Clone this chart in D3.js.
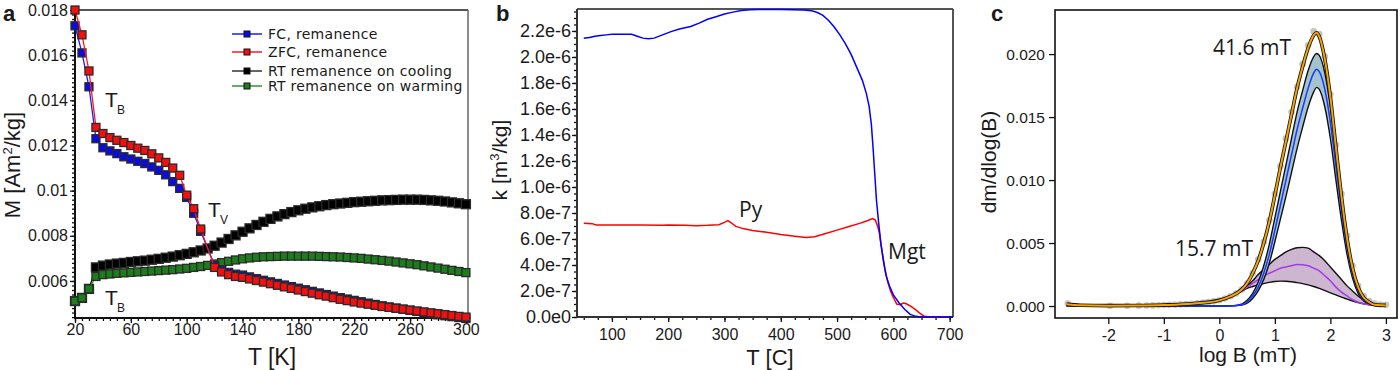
<!DOCTYPE html>
<html>
<head>
<meta charset="utf-8">
<script src="https://cdn.jsdelivr.net/npm/d3@7"></script>
<style>
  body { margin: 0; background: #fff; }
  svg text { font-family: "Liberation Sans", Arial, sans-serif; fill: #1a1a1a; }
  .hum { font-family: "Open Sans", "Noto Sans", sans-serif !important; }
  .leg { font-family: "DejaVu Sans", Verdana, sans-serif !important; }
</style>
</head>
<body>
<svg id="fig" width="1400" height="370"></svg>
<script>
/* ---------- panel a : remanence vs T ---------- */
const tempsFC = [20,25,30,35,40,45,50,55,60,65,70,75,80,85,90,95,100,105,110,
  120,125,130,135,140,145,150,155,160,165,170,175,180,185,190,195,200,205,210,215,220,
  225,230,235,240,245,250,255,260,265,270,275,280,285,290,295,300];
const fcRem = [0.0173,0.0161,0.0146,0.0123,0.0119,0.01176,0.01164,0.0115,0.0114,0.0113,
  0.0112,0.01105,0.0109,0.0107,0.0104,0.0101,0.0097,0.0090,0.0082,
  0.0067,0.0065,0.00638,0.0063,0.00626,0.00618,0.0061,0.00603,0.00596,0.00589,0.00582,
  0.00575,0.00568,0.00561,0.00554,0.00547,0.0054,0.00533,0.00526,0.0052,0.00514,0.00508,
  0.00502,0.00496,0.0049,0.00485,0.0048,0.00475,0.0047,0.00465,0.0046,0.00455,0.0045,
  0.00446,0.00442,0.00438,0.00434];
const zfcRem = [0.0180,0.0169,0.0153,0.0128,0.01253,0.01235,0.01223,0.01213,0.0120,0.01188,
  0.01178,0.01163,0.01145,0.01125,0.0110,0.01068,0.0098,0.0092,0.0083,
  0.0066,0.0064,0.00628,0.0062,0.00616,0.00609,0.00602,0.00595,0.00588,0.00581,0.00574,
  0.00567,0.0056,0.00553,0.00546,0.00539,0.00533,0.00526,0.00519,0.00513,0.00507,0.00502,
  0.00497,0.00492,0.00487,0.00483,0.00479,0.00475,0.00471,0.00467,0.00463,0.00459,0.00455,
  0.00451,0.00447,0.00443,0.0044];
const tempsRT = [20,25,30,35,40,45,50,55,60,65,70,75,80,85,90,95,100,105,110,115,
  120,125,130,135,140,145,150,155,160,165,170,175,180,185,190,195,200,205,210,215,
  220,225,230,235,240,245,250,255,260,265,270,275,280,285,290,295,300];
const rtCooling = [0.00511,0.00525,0.00565,0.0066,0.00668,0.00673,0.00677,0.0068,0.00684,0.00687,
  0.0069,0.00694,0.00698,0.00703,0.00708,0.00714,0.0072,0.00727,0.00735,0.00744,
  0.00756,0.0077,0.00786,0.00802,0.00818,0.00833,0.00848,0.00862,0.00875,0.00886,
  0.00896,0.00905,0.00913,0.0092,0.00926,0.00931,0.00936,0.0094,0.00943,0.00946,
  0.00949,0.00951,0.00953,0.00955,0.00957,0.00958,0.00959,0.0096,0.0096,0.0096,
  0.00959,0.00957,0.00955,0.00952,0.00948,0.00944,0.0094];
const rtWarming = [0.00511,0.00525,0.00565,0.0062,0.00628,0.00631,0.00634,0.00636,0.00638,0.0064,
  0.00642,0.00644,0.00646,0.00648,0.0065,0.00653,0.00656,0.0066,0.00664,0.00669,
  0.00675,0.00681,0.00687,0.00693,0.00698,0.00702,0.00705,0.00707,0.00708,0.00709,
  0.0071,0.0071,0.0071,0.0071,0.0071,0.00709,0.00708,0.00707,0.00706,0.00704,
  0.00702,0.007,0.00697,0.00694,0.00691,0.00688,0.00684,0.0068,0.00676,0.00672,
  0.00667,0.00662,0.00657,0.00652,0.00647,0.00642,0.00637];
const aYTicks = [0.006,0.008,0.01,0.012,0.014,0.016,0.018];
const aYTickLabels = ['0.006','0.008','0.01','0.012','0.014','0.016','0.018'];
const aXTicks = [20,60,100,140,180,220,260,300];
const legendLabels = ['FC, remanence','ZFC, remanence','RT remanence on cooling','RT remanence on warming'];

/* ---------- panel b : susceptibility vs T ---------- */
const tempHeat = [50,60,70,80,90,100,110,120,135,145,155,165,175,190,205,220,240,255,270,285,
  300,315,330,345,360,380,400,420,440,455,465,475,485,495,505,515,525,535,545,552,
  557,561,564,567,570,574,578,582,587,593,600,610,620,630,640,650,700,706];
const kHeat = [2.144,2.15,2.16,2.165,2.17,2.175,2.175,2.175,2.175,2.16,2.145,2.14,2.145,2.17,2.195,2.215,2.235,2.26,2.29,2.31,
  2.33,2.345,2.358,2.364,2.365,2.365,2.365,2.364,2.362,2.355,2.342,2.32,2.28,2.23,2.17,2.1,2.02,1.92,1.82,1.72,
  1.62,1.48,1.3,1.1,0.9,0.72,0.56,0.44,0.32,0.24,0.17,0.11,0.06,0.02,0.005,0,0,0];
const tempCool = [50,65,72,100,150,190,200,230,250,270,290,300,306,312,320,335,350,375,400,425,
  445,460,480,500,520,540,555,563,568,572,575,578,581,585,590,595,600,606,612,618,
  624,632,640,648,655,665,700];
const kCool = [0.721,0.718,0.708,0.708,0.708,0.706,0.708,0.706,0.702,0.705,0.71,0.728,0.741,0.725,0.697,0.678,0.666,0.652,0.634,0.622,
  0.612,0.618,0.642,0.668,0.694,0.72,0.742,0.757,0.745,0.7,0.65,0.56,0.48,0.37,0.27,0.2,0.15,0.1,0.095,0.108,
  0.1,0.08,0.055,0.025,0.005,0,0];
const bYTicks = [0,0.2,0.4,0.6,0.8,1.0,1.2,1.4,1.6,1.8,2.0,2.2];
const bYTickLabels = ['0.0e0','2.0e-7','4.0e-7','6.0e-7','8.0e-7','1.0e-6','1.2e-6','1.4e-6','1.6e-6','1.8e-6','2.0e-6','2.2e-6'];
const bXTicks = [100,200,300,400,500,600,700];

/* ---------- panel c : coercivity components ---------- */
const logB = [-2.75,-2.5,-2,-1.5,-1,-0.5,0,0.2,0.4,0.5,0.6,0.7,0.8,0.9,1.0,1.1,1.2,1.3,1.4,1.5,
  1.6,1.7,1.75,1.8,1.9,2.0,2.1,2.2,2.3,2.4,2.5,2.6,2.7,2.8,3.0];
const fitTotal = [0.00015,0.00006,0.00003,0.00004,0.00008,0.00018,0.00045,0.00076,0.0013,0.0018,
  0.0026,0.0036,0.005,0.0067,0.0088,0.011,0.0131,0.0152,0.0173,0.019,
  0.0205,0.0215,0.0217,0.0214,0.0196,0.0166,0.0126,0.0087,0.0054,0.003,0.0015,0.00068,0.0003,0.0001,0.00005];
const hardMean = [0,0,0,0,0,0,0,0.00001,0.0001,0.0003,0.0008,0.0015,0.0026,0.0041,0.006,0.008,0.01,0.012,0.014,0.0157,
  0.0173,0.0185,0.0188,0.0186,0.0172,0.0146,0.0111,0.0076,0.0046,0.0025,0.0012,0.0005,0.0002,0.00005,0];
const hardUpper = [0,0,0,0,0,0,0,0.00001,0.00014,0.00045,0.001,0.0019,0.0032,0.0049,0.007,0.0091,0.0112,0.0133,0.0154,0.0171,
  0.0187,0.0198,0.02005,0.0199,0.0185,0.0158,0.0121,0.0083,0.0051,0.0028,0.0014,0.0006,0.0002,0.00005,0];
const hardLower = [0,0,0,0,0,0,0,0.00001,0.00007,0.00022,0.0006,0.0012,0.0021,0.0034,0.0051,0.0069,0.0087,0.0106,0.0125,0.0142,
  0.0158,0.017,0.01736,0.0172,0.0158,0.0133,0.01,0.0068,0.0041,0.0022,0.001,0.0004,0.0002,0.00005,0];
const logBSoft = [0.3,0.4,0.5,0.6,0.7,0.8,0.9,1.0,1.1,1.2,1.3,1.4,1.5,1.6,1.7,1.8,1.9,2.0,2.1,2.2,2.3,2.4,2.5,2.6,2.7,2.8];
const softMean = [0.001,0.0012,0.0015,0.0018,0.0021,0.0024,0.0026,0.0028,0.003,0.0031,0.0032,0.0033,0.00328,0.0032,0.003,
  0.0028,0.0024,0.002,0.0015,0.0011,0.0008,0.0005,0.0003,0.00018,0.0001,0.00005];
const softUpper = [0.001,0.00125,0.0016,0.002,0.0025,0.0029,0.0033,0.0037,0.004,0.0043,0.0045,0.00463,0.00466,0.0046,0.0043,
  0.004,0.0036,0.0031,0.0026,0.0021,0.0016,0.0012,0.0008,0.0005,0.0002,0.0001];
const softLower = [0.001,0.00118,0.0014,0.00155,0.00168,0.00178,0.00188,0.00195,0.00198,0.00197,0.00193,0.00186,0.00178,0.00168,0.00155,
  0.0014,0.00122,0.00105,0.00088,0.0007,0.00055,0.0004,0.00028,0.00018,0.0001,0.00005];
const measLogB = [-2.73,-1.97,-1.66,-1.45,-1.31,-1.2,-1.1,
  -1.0,-0.9,-0.8,-0.7,-0.6,-0.5,-0.4,-0.3,-0.2,-0.1,0,
  0.1,0.2,0.3,0.4,0.5,0.6,0.7,0.8,0.9,1.0,
  1.1,1.2,1.3,1.4,1.5,1.6,1.7,1.8,1.9,2.0,
  2.1,2.2,2.3,2.4,2.5,2.6,2.7,2.8,2.9,3.0];
const measDm = [0.0002,0.00002,0.00002,0.00003,0.00004,0.00005,0.00006,
  0.00008,0.0001,0.00011,0.00013,0.00015,0.00018,0.00022,0.00027,0.00032,0.00038,0.00046,
  0.0006,0.00078,0.001,0.0013,0.0018,0.0026,0.0037,0.0051,0.0068,0.0089,
  0.0111,0.0133,0.0154,0.0174,0.0192,0.0207,0.0218,0.0216,0.0198,0.0168,
  0.0128,0.0089,0.0056,0.0032,0.0016,0.0008,0.0004,0.0002,0.00012,0.0001];
const cYTicks = [0,0.005,0.01,0.015,0.02];
const cYTickLabels = ['0.000','0.005','0.010','0.015','0.020'];
const cXTicks = [-2,-1,0,1,2,3];
const cXTickLabels = ['-2','-1','0','1','2','3'];

const svg = d3.select('#fig');

function styleAxis(g, size) {
  g.select('.domain').remove();
  g.selectAll('line').attr('stroke', '#111').attr('stroke-width', 1.3);
  g.selectAll('text').style('font-size', size + 'px').attr('fill', '#1a1a1a');
}

/* ===== panel a ===== */
const xA = d3.scaleLinear().domain([20, 301.5]).range([75, 468]);
const yA = d3.scaleLinear().domain([0.00436, 0.018]).range([318, 10]);
const gA = svg.append('g');

gA.append('g').attr('transform', 'translate(75,0)')
  .call(d3.axisLeft(yA).tickValues(d3.range(0.0044, 0.01801, 0.0002)).tickFormat('').tickSize(3))
  .call(g => styleAxis(g, 16));
gA.append('g').attr('transform', 'translate(75,0)')
  .call(d3.axisLeft(yA).tickValues(aYTicks).tickFormat((d, i) => aYTickLabels[i]).tickSize(5).tickPadding(2))
  .call(g => styleAxis(g, 16));
gA.append('g').attr('transform', 'translate(0,318)')
  .call(d3.axisBottom(xA).tickValues(d3.range(20, 301, 5)).tickFormat('').tickSize(3))
  .call(g => styleAxis(g, 16));
gA.append('g').attr('transform', 'translate(0,318)')
  .call(d3.axisBottom(xA).tickValues(aXTicks).tickSize(5).tickPadding(1))
  .call(g => styleAxis(g, 16));

gA.append('line').attr('x1', 75).attr('x2', 468).attr('y1', 10).attr('y2', 10).attr('stroke', '#555').attr('stroke-width', 2);
gA.append('line').attr('x1', 468).attr('x2', 468).attr('y1', 10).attr('y2', 318).attr('stroke', '#666').attr('stroke-width', 1.5);
gA.append('line').attr('x1', 75).attr('x2', 75).attr('y1', 10).attr('y2', 319).attr('stroke', '#111').attr('stroke-width', 2);
gA.append('line').attr('x1', 74).attr('x2', 468).attr('y1', 318).attr('y2', 318).attr('stroke', '#111').attr('stroke-width', 2);

const seriesA = [
  {t: tempsRT, v: rtCooling, line: '#000', fill: '#000', size: 9},
  {t: tempsRT, v: rtWarming, line: '#2a9a2a', fill: '#1d7d1d', size: 8},
  {t: tempsFC, v: fcRem, line: '#1a1aff', fill: '#0b0bde', size: 8},
  {t: tempsFC, v: zfcRem, line: '#ff1a1a', fill: '#f01010', size: 8}
];
const lineA = d3.line().x(d => xA(d[0])).y(d => yA(d[1]));
seriesA.forEach(s => {
  const pts = s.t.map((t, i) => [t, s.v[i]]);
  gA.append('path').datum(pts).attr('d', lineA).attr('fill', 'none')
    .attr('stroke', s.line).attr('stroke-width', 1.3);
  gA.append('g').selectAll('rect').data(pts).join('rect')
    .attr('x', d => xA(d[0]) - s.size / 2).attr('y', d => yA(d[1]) - s.size / 2)
    .attr('width', s.size).attr('height', s.size)
    .attr('fill', s.fill).attr('stroke', '#2a2a2a').attr('stroke-width', 1.3);
});

// legend
const legColors = [['#1a1aff', '#0b0bde'], ['#ff1a1a', '#f01010'], ['#333', '#000'], ['#2a9a2a', '#1d7d1d']];
const legY = [34, 52, 71, 86];
legendLabels.forEach((lab, i) => {
  gA.append('line').attr('x1', 232).attr('x2', 262).attr('y1', legY[i]).attr('y2', legY[i])
    .attr('stroke', legColors[i][0]).attr('stroke-width', 1.5);
  gA.append('rect').attr('x', 244).attr('y', legY[i] - 3).attr('width', 6).attr('height', 6)
    .attr('fill', legColors[i][1]).attr('stroke', '#111').attr('stroke-width', 1);
  gA.append('text').attr('class', 'leg').attr('x', 268).attr('y', legY[i] + 5)
    .style('font-size', '14px').style('letter-spacing', '0.3px').text(lab);
});

// annotations
function tSub(g, x, y, sub) {
  g.append('text').attr('x', x).attr('y', y).style('font-size', '21px').text('T');
  g.append('text').attr('x', x + 12).attr('y', y + 7).style('font-size', '12px').text(sub);
}
tSub(gA, 105, 107, 'B');
tSub(gA, 208, 217, 'V');
tSub(gA, 105, 305, 'B');

gA.append('text').attr('x', 3).attr('y', 21).style('font-size', '22px').style('font-weight', 'bold').text('a');
gA.append('text').attr('transform', 'translate(20,165) rotate(-90)').attr('text-anchor', 'middle')
  .style('font-size', '22px').html('M [Am<tspan dy="-8" font-size="13px">2</tspan><tspan dy="8">/kg]</tspan>');
gA.append('text').attr('x', 272).attr('y', 365).attr('text-anchor', 'middle').style('font-size', '23px').text('T [K]');

/* ===== panel b ===== */
const xB = d3.scaleLinear().domain([38, 706]).range([577, 953]);
const yB = d3.scaleLinear().domain([0, 2.369]).range([317, 9]);
const gB = svg.append('g');

gB.append('g').attr('transform', 'translate(577,0)')
  .call(d3.axisLeft(yB).tickValues(d3.range(0, 2.36, 0.05)).tickFormat('').tickSize(3))
  .call(g => styleAxis(g, 18));
gB.append('g').attr('transform', 'translate(577,0)')
  .call(d3.axisLeft(yB).tickValues(bYTicks).tickFormat((d, i) => bYTickLabels[i]).tickSize(5).tickPadding(1))
  .call(g => styleAxis(g, 18));
gB.append('g').attr('transform', 'translate(0,317)')
  .call(d3.axisBottom(xB).tickValues(d3.range(50, 706, 25)).tickFormat('').tickSize(3))
  .call(g => styleAxis(g, 16));
gB.append('g').attr('transform', 'translate(0,317)')
  .call(d3.axisBottom(xB).tickValues(bXTicks).tickSize(5).tickPadding(7))
  .call(g => styleAxis(g, 16));

gB.append('line').attr('x1', 577).attr('x2', 953).attr('y1', 9).attr('y2', 9).attr('stroke', '#555').attr('stroke-width', 2);
gB.append('line').attr('x1', 953).attr('x2', 953).attr('y1', 9).attr('y2', 317).attr('stroke', '#555').attr('stroke-width', 2);
gB.append('line').attr('x1', 577).attr('x2', 577).attr('y1', 9).attr('y2', 318).attr('stroke', '#333').attr('stroke-width', 2);
gB.append('line').attr('x1', 576).attr('x2', 953).attr('y1', 317).attr('y2', 317).attr('stroke', '#333').attr('stroke-width', 2);

const lineB = d3.line().x(d => xB(d[0])).y(d => yB(d[1]));
gB.append('path').datum(tempCool.map((t, i) => [t, kCool[i]])).attr('d', lineB)
  .attr('fill', 'none').attr('stroke', '#ff0000').attr('stroke-width', 1.5);
gB.append('path').datum(tempHeat.map((t, i) => [t, kHeat[i]])).attr('d', lineB)
  .attr('fill', 'none').attr('stroke', '#0000ff').attr('stroke-width', 1.5);

gB.append('text').attr('class', 'hum').attr('x', 739).attr('y', 217).style('font-size', '21px').text('Py');
gB.append('text').attr('class', 'hum').attr('x', 888).attr('y', 259).style('font-size', '21px').text('Mgt');

gB.append('text').attr('x', 496).attr('y', 21).style('font-size', '22px').style('font-weight', 'bold').text('b');
gB.append('text').attr('transform', 'translate(507,160) rotate(-90)').attr('text-anchor', 'middle')
  .style('font-size', '21px').html('k [m<tspan dy="-8" font-size="13px">3</tspan><tspan dy="8">/kg]</tspan>');
gB.append('text').attr('x', 770).attr('y', 365).attr('text-anchor', 'middle').style('font-size', '22px').text('T [C]');

/* ===== panel c ===== */
const xC = d3.scaleLinear().domain([-2.96, 3.2]).range([1055, 1397]);
const yC = d3.scaleLinear().domain([-0.00095, 0.0235]).range([318, 10]);
const gC = svg.append('g');

gC.append('g').attr('transform', 'translate(1055,0)')
  .call(d3.axisLeft(yC).tickValues(cYTicks).tickFormat((d, i) => cYTickLabels[i]).tickSize(6).tickPadding(4))
  .call(g => styleAxis(g, 15.5));
gC.append('g').attr('transform', 'translate(0,318)')
  .call(d3.axisBottom(xC).tickValues(cXTicks).tickFormat((d, i) => cXTickLabels[i]).tickSize(6).tickPadding(6))
  .call(g => styleAxis(g, 16));

const lineC = d3.line().x(d => xC(d[0])).y(d => yC(d[1])).curve(d3.curveMonotoneX);
const areaC = d3.area().x(d => xC(d[0])).y0(d => yC(d[1])).y1(d => yC(d[2])).curve(d3.curveMonotoneX);

gC.append('g').selectAll('circle').data(measLogB.map((x, i) => [x, measDm[i]])).join('circle')
  .attr('cx', d => xC(d[0])).attr('cy', d => yC(d[1])).attr('r', 3.3).attr('fill', '#c4c4c4');

// soft component
gC.append('path').datum(logBSoft.map((x, i) => [x, softLower[i], softUpper[i]])).attr('d', areaC)
  .attr('fill', '#cdb6cf');
[softUpper, softLower].forEach(arr => {
  gC.append('path').datum(logBSoft.map((x, i) => [x, arr[i]])).attr('d', lineC)
    .attr('fill', 'none').attr('stroke', '#111').attr('stroke-width', 1.4);
});
gC.append('path').datum(logBSoft.map((x, i) => [x, softMean[i]])).attr('d', lineC)
  .attr('fill', 'none').attr('stroke', '#a53be8').attr('stroke-width', 1.5);

// hard component
gC.append('path').datum(logB.map((x, i) => [x, hardLower[i], hardUpper[i]])).attr('d', areaC)
  .attr('fill', '#a3c3cf');
[hardUpper, hardLower].forEach(arr => {
  gC.append('path').datum(logB.map((x, i) => [x, arr[i]])).attr('d', lineC)
    .attr('fill', 'none').attr('stroke', '#111').attr('stroke-width', 1.4);
});
gC.append('path').datum(logB.map((x, i) => [x, hardMean[i]])).attr('d', lineC)
  .attr('fill', 'none').attr('stroke', '#1638ff').attr('stroke-width', 1.5);

// total fit
const totPts = logB.map((x, i) => [x, fitTotal[i]]);
gC.append('path').datum(totPts).attr('d', lineC).attr('fill', 'none').attr('stroke', '#111').attr('stroke-width', 3.6);
gC.append('path').datum(totPts).attr('d', lineC).attr('fill', 'none').attr('stroke', '#f5a300').attr('stroke-width', 2);

gC.append('rect').attr('x', 1055).attr('y', 10).attr('width', 342).attr('height', 308)
  .attr('fill', 'none').attr('stroke', '#111').attr('stroke-width', 1.6);

gC.append('text').attr('class', 'hum').attr('x', 1213).attr('y', 55).style('font-size', '21px').text('41.6 mT');
gC.append('text').attr('class', 'hum').attr('x', 1175).attr('y', 256).style('font-size', '21px').text('15.7 mT');

gC.append('text').attr('x', 991).attr('y', 21).style('font-size', '22px').style('font-weight', 'bold').text('c');
gC.append('text').attr('transform', 'translate(996,162) rotate(-90)').attr('text-anchor', 'middle')
  .style('font-size', '21px').text('dm/dlog(B)');
gC.append('text').attr('x', 1248).attr('y', 362).attr('text-anchor', 'middle').style('font-size', '21px').text('log B (mT)');
</script>
</body>
</html>
